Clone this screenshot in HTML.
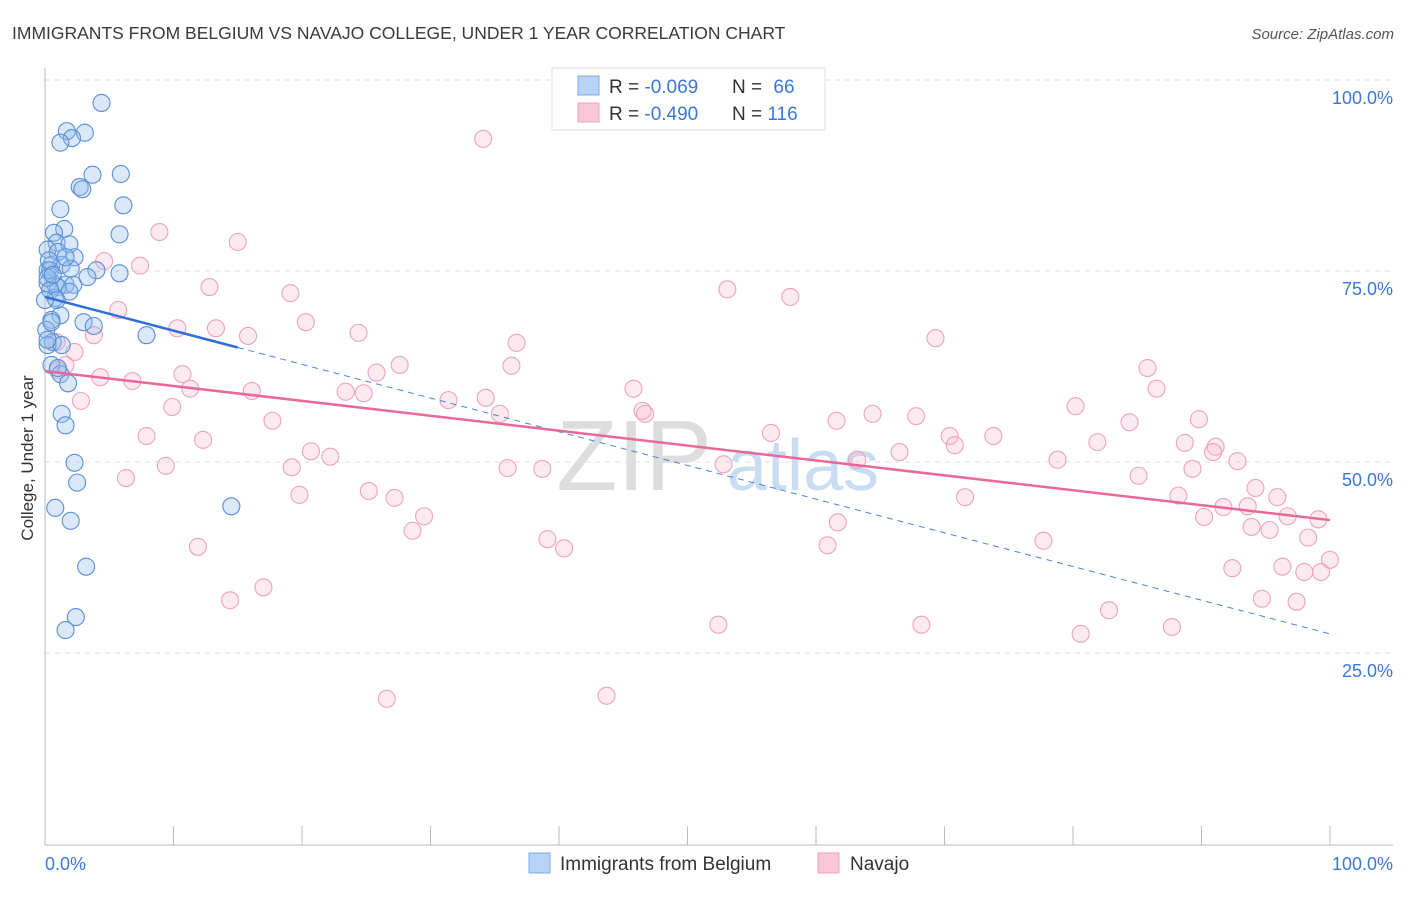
<!DOCTYPE html>
<html><head><meta charset="utf-8">
<style>
body{margin:0;background:#fff;font-family:"Liberation Sans",sans-serif;}
svg text{font-family:"Liberation Sans",sans-serif;}
</style></head>
<body>
<svg id="chart" width="1406" height="892" viewBox="0 0 1406 892" xmlns="http://www.w3.org/2000/svg">
<text x="12" y="39" font-size="17.5" fill="#3a3a3a">IMMIGRANTS FROM BELGIUM VS NAVAJO COLLEGE, UNDER 1 YEAR CORRELATION CHART</text>
<text x="1394" y="39" font-size="15" fill="#555" text-anchor="end" font-style="italic">Source: ZipAtlas.com</text>
<g>
<text x="634" y="490" font-size="100" fill="#ddd" font-family="Liberation Serif,serif" text-anchor="middle">ZIP</text>
<text x="803" y="490" font-size="72" fill="#c8dcf2" text-anchor="middle">atlas</text>
</g>
<g id="grid"></g>
<g id="axes"></g>
<g id="pts"></g>
<g id="trend"></g>
<text transform="translate(33,458) rotate(-90)" font-size="17" fill="#333" text-anchor="middle">College, Under 1 year</text>
<g>
<rect x="552" y="68" width="273" height="62" fill="#fff" stroke="#ddd"/>
<rect x="578" y="76" width="21" height="19" fill="#b9d3f4" stroke="#7ea9e6"/>
<rect x="578" y="103" width="21" height="19" fill="#fac7d6" stroke="#eea0b8"/>
<text x="609" y="93" font-size="19" fill="#333">R = <tspan fill="#3a78d8">-0.069</tspan></text>
<text x="732" y="93" font-size="19" fill="#333">N = <tspan fill="#3a78d8" dx="6">66</tspan></text>
<text x="609" y="120" font-size="19" fill="#333">R = <tspan fill="#3a78d8">-0.490</tspan></text>
<text x="732" y="120" font-size="19" fill="#333">N = <tspan fill="#3a78d8">116</tspan></text>
</g>
<g>
<rect x="529" y="853" width="21" height="20" fill="#b9d3f4" stroke="#7ea9e6"/>
<text x="560" y="870" font-size="19" fill="#333">Immigrants from Belgium</text>
<rect x="818" y="853" width="21" height="20" fill="#fac7d6" stroke="#eea0b8"/>
<text x="850" y="870" font-size="19" fill="#333">Navajo</text>
</g>
</svg>
<script>
const blueX=[4.4,1.7,3.1,2.1,1.2,3.7,5.9,2.7,2.9,6.1,1.2,1.5,0.7,5.8,0.9,1.9,0.2,2.3,0.5,1.3,4.0,0.2,2.0,3.3,5.8,0.2,0.8,1.6,2.2,1.0,1.9,0.8,1.2,0.5,0.1,0.6,0.2,3.0,3.8,7.9,1.3,0.5,1.2,1.8,1.3,1.6,2.3,2.5,0.8,2.0,14.5,3.2,2.4,1.6,0.4,0.2,0.4,0.9,1.0,1.6,0.2,0.5,1.0,0.3,0.6,0.0];
const blueY=[97.0,93.3,93.1,92.4,91.8,87.6,87.7,86.0,85.7,83.6,83.1,80.5,80.0,79.8,78.7,78.5,77.8,76.8,75.8,75.8,75.1,75.1,75.3,74.2,74.7,73.4,73.2,73.2,73.2,72.9,72.3,71.5,69.2,68.6,67.3,65.7,65.3,68.3,67.8,66.6,65.3,62.7,61.5,60.3,56.3,54.8,49.9,47.3,44.0,42.3,44.2,36.3,29.7,28.0,75.1,74.1,72.5,71.2,77.5,76.8,66.0,68.3,62.3,76.4,74.5,71.2];
const pinkX=[34.1,8.9,15.0,7.4,4.6,12.8,19.1,53.1,58.0,5.7,20.3,10.3,13.3,24.4,15.8,69.3,3.8,36.7,0.9,2.3,1.6,27.6,36.3,25.8,85.8,10.7,4.3,6.8,1.0,11.3,16.1,23.4,24.8,45.8,86.5,80.2,2.8,9.9,31.4,34.3,46.5,46.7,35.4,84.4,17.7,64.4,67.8,61.6,89.8,7.9,12.3,56.5,70.4,73.8,20.7,70.8,81.9,88.7,91.1,90.9,22.2,9.4,19.2,36.0,38.7,52.8,63.2,66.5,78.8,92.8,89.3,85.1,6.3,19.8,25.2,27.2,94.2,95.9,88.2,71.6,29.5,61.7,90.2,91.7,93.6,96.7,28.6,93.9,95.3,99.1,39.1,40.4,11.9,60.9,77.7,98.3,100.0,92.4,96.3,98.0,99.3,17.0,14.4,94.7,97.4,82.8,52.4,68.2,87.7,80.6,26.6,43.7];
const pinkY=[92.3,80.1,78.8,75.7,76.3,72.9,72.1,72.6,71.6,69.9,68.3,67.5,67.5,66.9,66.5,66.2,66.6,65.6,65.7,64.4,62.7,62.7,62.6,61.7,62.3,61.5,61.1,60.6,62.0,59.6,59.3,59.2,59.0,59.6,59.6,57.3,58.0,57.2,58.1,58.4,56.7,56.3,56.3,55.2,55.4,56.3,56.0,55.4,55.6,53.4,52.9,53.8,53.4,53.4,51.4,52.2,52.6,52.5,52.0,51.3,50.7,49.5,49.3,49.2,49.1,49.7,50.3,51.3,50.3,50.1,49.1,48.2,47.9,45.7,46.2,45.3,46.6,45.4,45.6,45.4,42.9,42.1,42.8,44.1,44.2,42.9,41.0,41.5,41.1,42.5,39.9,38.7,38.9,39.1,39.7,40.1,37.2,36.1,36.3,35.6,35.6,33.6,31.9,32.1,31.7,30.6,28.7,28.7,28.4,27.5,19.0,19.4];
const blueTrend=[71.6,27.5];
const pinkTrend=[61.9,42.4];
const yTicks=[25,50,75,100];
const yTickLabels=["25.0%","50.0%","75.0%","100.0%"];
const xTicks=[0,10,20,30,40,50,60,70,80,90,100];

const NS="http://www.w3.org/2000/svg";
const X0=45,X1=1330,Y0=844,Y100=80;
function sx(v){return X0+(X1-X0)*v/100;}
function sy(v){return Y0-(Y0-Y100)*v/100;}
function mk(tag,attrs,parent){const e=document.createElementNS(NS,tag);for(const k in attrs)e.setAttribute(k,attrs[k]);document.getElementById(parent).appendChild(e);return e;}

let g=mk('line',{x1:45,y1:80,x2:1393,y2:80,stroke:'#ddd','stroke-dasharray':'5,5'},'grid');


yTicks.forEach((t,i)=>{
  const l=mk('line',{x1:45,y1:sy(t),x2:1393,y2:sy(t),stroke:'#ddd','stroke-dasharray':'5,5'},'grid');
  
  
  const tx=mk('text',{x:1393,y:sy(t)+24,'font-size':18,fill:'#3a78d8','text-anchor':'end'},'axes');
  tx.textContent=yTickLabels[i];
  
  
});
let ax=mk('line',{x1:45,y1:68,x2:45,y2:845,stroke:'#bbb'},'axes');


let bx=mk('line',{x1:45,y1:845,x2:1393,y2:845,stroke:'#bbb'},'axes');


xTicks.forEach(t=>{
  const l=mk('line',{x1:sx(t),y1:826,x2:sx(t),y2:845,stroke:'#bbb'},'axes');
  
  
});
let xl=mk('text',{x:45,y:870,'font-size':18,fill:'#3a78d8'},'axes');xl.textContent='0.0%';


let xr=mk('text',{x:1393,y:870,'font-size':18,fill:'#3a78d8','text-anchor':'end'},'axes');xr.textContent='100.0%';



pinkX.forEach((v,i)=>{
  const c=mk('circle',{cx:sx(v),cy:sy(pinkY[i]),r:8.5,fill:'rgba(248,180,200,0.28)',stroke:'#eda3bb','stroke-width':1.1},'pts');
  
  
});
blueX.forEach((v,i)=>{
  const c=mk('circle',{cx:sx(v),cy:sy(blueY[i]),r:8.5,fill:'rgba(150,190,238,0.35)',stroke:'#5a8fd8','stroke-width':1.1},'pts');
  
  
});
function tv(tr,x){return tr[0]+(tr[1]-tr[0])*x/100;}
let bt=mk('line',{x1:sx(0),y1:sy(tv(blueTrend,0)),x2:sx(15),y2:sy(tv(blueTrend,15)),stroke:'#2f6fd6','stroke-width':2.5},'trend');


let bd=mk('line',{x1:sx(15),y1:sy(tv(blueTrend,15)),x2:sx(100),y2:sy(tv(blueTrend,100)),stroke:'#4a82da','stroke-width':1,'stroke-dasharray':'6,5'},'trend');


let pt=mk('line',{x1:sx(0),y1:sy(tv(pinkTrend,0)),x2:sx(100),y2:sy(tv(pinkTrend,100)),stroke:'#e8689a','stroke-width':2.5},'trend');


</script>
</body></html>
